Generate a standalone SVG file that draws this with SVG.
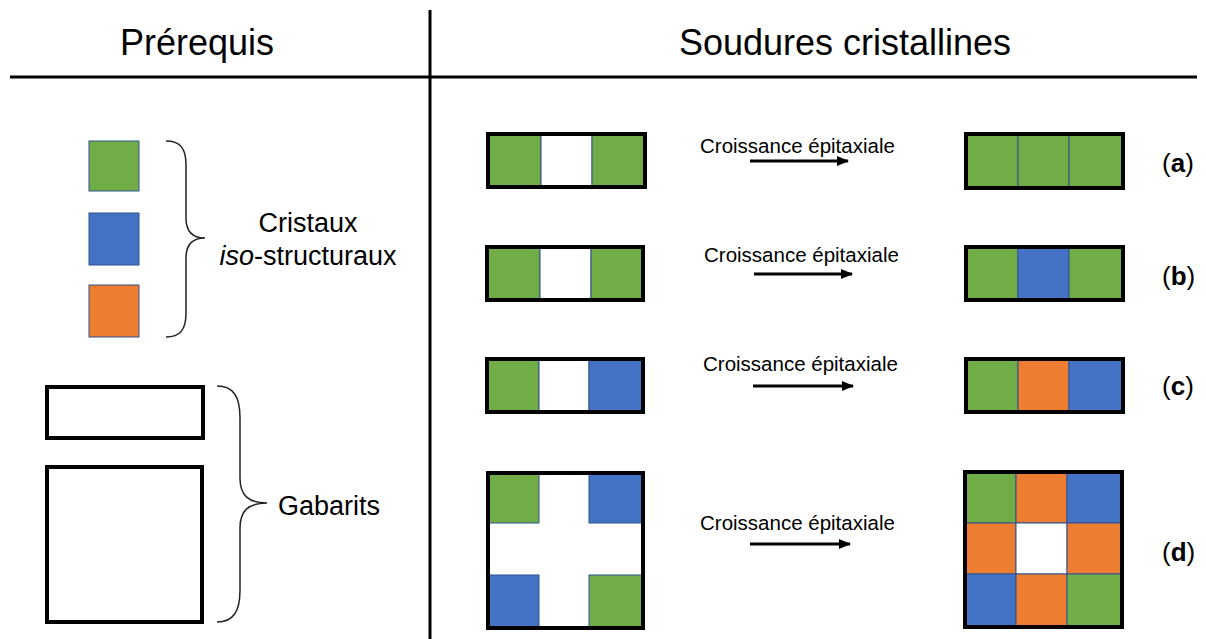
<svg xmlns="http://www.w3.org/2000/svg" width="1206" height="639" viewBox="0 0 1206 639">
<defs>
<marker id="arr" markerWidth="12" markerHeight="10" refX="11" refY="5" orient="auto" markerUnits="userSpaceOnUse">
<path d="M0,0 L12,5 L0,10 Z" fill="#000"/>
</marker>
</defs>
<style>
text{font-family:"Liberation Sans",Arial,sans-serif;fill:#000}
.title{font-size:36px;text-anchor:middle}
.lbl{font-size:27px}
.ep{font-size:20.5px}
.tag{font-size:26px}
.frame{fill:none;stroke:#000;stroke-width:4}
.g{fill:#70AD47;stroke:#2F528F;stroke-width:1}
.b{fill:#4472C4;stroke:#2F528F;stroke-width:1}
.o{fill:#ED7D31;stroke:#2F528F;stroke-width:1}
.w{fill:#fff;stroke:#2F528F;stroke-width:1}
.brace{fill:none;stroke:#222;stroke-width:1.5}
.arrow{stroke:#000;stroke-width:3;fill:none}
</style>
<rect width="1206" height="639" fill="#fff"/>
<g id="header">
<line x1="10" y1="77" x2="1197" y2="77" stroke="#000" stroke-width="3"/>
<line x1="430" y1="10" x2="430" y2="639" stroke="#000" stroke-width="3"/>
<text class="title" x="197" y="55">Prérequis</text>
<text class="title" x="845" y="55">Soudures cristallines</text>
</g>
<g id="crystals">
<rect class="g" x="89" y="141" width="50" height="50"/>
<rect class="b" x="89" y="213" width="50" height="52"/>
<rect class="o" x="89" y="285" width="50" height="52"/>
<path class="brace" d="M166,141 C180,141 186,148 186,165 L186,218 C186,231 192,238 205,238 C192,238 186,245 186,258 L186,313 C186,330 180,337 166,337"/>
<text class="lbl" x="308" y="232" text-anchor="middle">Cristaux</text>
<text class="lbl" x="308" y="265" text-anchor="middle"><tspan font-style="italic">iso</tspan>-structuraux</text>
</g>
<g id="templates">
<rect class="frame" x="47" y="387" width="156" height="51" stroke-width="3.5"/>
<rect class="frame" x="47" y="467" width="155" height="155" stroke-width="3.5"/>
<path class="brace" d="M217,386 C233,386 240,396 240,418 L240,478 C240,495 248,503 267,503 C248,503 240,511 240,528 L240,590 C240,612 233,622 217,622"/>
<text class="lbl" x="278" y="515">Gabarits</text>
</g>
<g id="row-a">
<rect class="g" x="488" y="134" width="53" height="53"/>
<rect class="w" x="541" y="134" width="51" height="53"/>
<rect class="g" x="592" y="134" width="53" height="53"/>
<rect class="frame" x="488" y="134" width="157" height="53"/>
<text class="ep" x="700" y="153">Croissance épitaxiale</text>
<rect class="g" x="966" y="134" width="52" height="54"/>
<rect class="g" x="1018" y="134" width="51" height="54"/>
<rect class="g" x="1069" y="134" width="54" height="54"/>
<rect class="frame" x="966" y="134" width="157" height="54"/>
<text class="tag" x="1162" y="172">(<tspan font-weight="bold">a</tspan>)</text>
</g>
<g id="row-b">
<rect class="g" x="487" y="247" width="53" height="53"/>
<rect class="w" x="540" y="247" width="51" height="53"/>
<rect class="g" x="591" y="247" width="52" height="53"/>
<rect class="frame" x="487" y="247" width="156" height="53"/>
<text class="ep" x="704" y="262">Croissance épitaxiale</text>
<rect class="g" x="966" y="247" width="52" height="53"/>
<rect class="b" x="1018" y="247" width="51" height="53"/>
<rect class="g" x="1069" y="247" width="54" height="53"/>
<rect class="frame" x="966" y="247" width="157" height="53"/>
<text class="tag" x="1162" y="285">(<tspan font-weight="bold">b</tspan>)</text>
</g>
<g id="row-c">
<rect class="g" x="487" y="359" width="52" height="53"/>
<rect class="w" x="539" y="359" width="50" height="53"/>
<rect class="b" x="589" y="359" width="54" height="53"/>
<rect class="frame" x="487" y="359" width="156" height="53"/>
<text class="ep" x="703" y="371">Croissance épitaxiale</text>
<rect class="g" x="966" y="359" width="52" height="53"/>
<rect class="o" x="1018" y="359" width="51" height="53"/>
<rect class="b" x="1069" y="359" width="54" height="53"/>
<rect class="frame" x="966" y="359" width="157" height="53"/>
<text class="tag" x="1162" y="395">(<tspan font-weight="bold">c</tspan>)</text>
</g>
<g id="row-d">
<rect class="g" x="488" y="473" width="51" height="50"/>
<rect class="b" x="589" y="473" width="54" height="50"/>
<rect class="b" x="488" y="575" width="51" height="52"/>
<rect class="g" x="589" y="575" width="54" height="52"/>
<rect class="frame" x="488" y="473" width="155" height="155"/>
<text class="ep" x="700" y="530">Croissance épitaxiale</text>
<rect class="g" x="965" y="472" width="51" height="51"/>
<rect class="o" x="1016" y="472" width="51" height="51"/>
<rect class="b" x="1067" y="472" width="55" height="51"/>
<rect class="o" x="965" y="523" width="51" height="51"/>
<rect class="w" x="1016" y="523" width="51" height="51"/>
<rect class="o" x="1067" y="523" width="55" height="51"/>
<rect class="b" x="965" y="574" width="51" height="53"/>
<rect class="o" x="1016" y="574" width="51" height="53"/>
<rect class="g" x="1067" y="574" width="55" height="53"/>
<rect class="frame" x="965" y="472" width="157" height="155"/>
<text class="tag" x="1162" y="561">(<tspan font-weight="bold">d</tspan>)</text>
</g>
<g id="connectors">
<line class="arrow" x1="750" y1="161" x2="848" y2="161" marker-end="url(#arr)"/>
<line class="arrow" x1="754" y1="274" x2="852" y2="274" marker-end="url(#arr)"/>
<line class="arrow" x1="753" y1="386" x2="853" y2="386" marker-end="url(#arr)"/>
<line class="arrow" x1="750" y1="544" x2="850" y2="544" marker-end="url(#arr)"/>
</g>
</svg>
